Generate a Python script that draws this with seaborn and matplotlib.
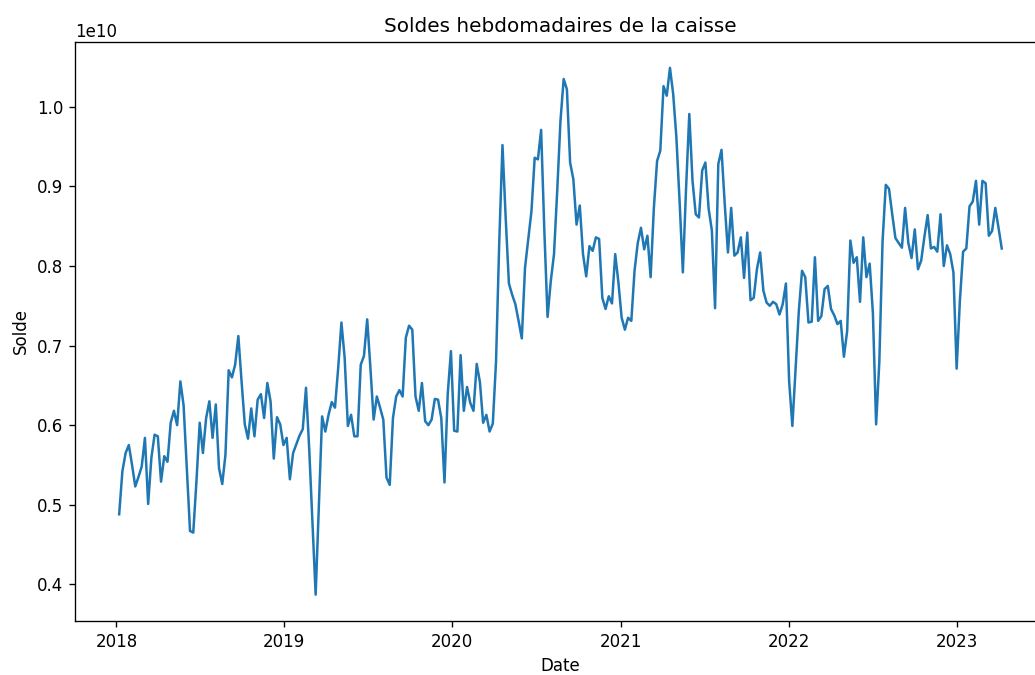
import pandas as pd
import matplotlib
matplotlib.use("Agg")
import matplotlib.pyplot as plt
import seaborn as sns

# Weekly balances (in units of 1e10)
start_date = "2018-01-07"
solde_2018 = [0.488, 0.542, 0.565, 0.575, 0.550, 0.523, 0.535, 0.548, 0.584, 0.501,
              0.559, 0.588, 0.586, 0.529, 0.561, 0.554, 0.603, 0.618, 0.600, 0.655,
              0.625, 0.545, 0.467, 0.465, 0.530, 0.603, 0.565, 0.609, 0.630, 0.584,
              0.626, 0.546, 0.526, 0.563, 0.669, 0.660, 0.676, 0.712, 0.655, 0.601,
              0.583, 0.621, 0.586, 0.632, 0.639, 0.609, 0.653, 0.630, 0.558, 0.610,
              0.601, 0.575]
solde_2019 = [0.584, 0.532, 0.565, 0.576, 0.587, 0.595, 0.647, 0.570, 0.480, 0.387,
              0.500, 0.611, 0.592, 0.613, 0.629, 0.622, 0.672, 0.729, 0.685, 0.599,
              0.613, 0.586, 0.586, 0.676, 0.687, 0.733, 0.672, 0.607, 0.636, 0.622,
              0.607, 0.534, 0.525, 0.609, 0.636, 0.644, 0.636, 0.710, 0.725, 0.720,
              0.636, 0.618, 0.653, 0.605, 0.600, 0.607, 0.633, 0.632, 0.609, 0.528,
              0.639, 0.693]
solde_2020 = [0.593, 0.592, 0.688, 0.618, 0.648, 0.628, 0.618, 0.677, 0.654, 0.603,
              0.613, 0.592, 0.602, 0.680, 0.830, 0.952, 0.860, 0.778, 0.764, 0.752,
              0.731, 0.709, 0.798, 0.834, 0.869, 0.936, 0.934, 0.971, 0.844, 0.736,
              0.781, 0.815, 0.895, 0.982, 1.035, 1.022, 0.930, 0.909, 0.852, 0.876,
              0.815, 0.787, 0.825, 0.819, 0.836, 0.834, 0.760, 0.746, 0.762, 0.753,
              0.815, 0.779]
solde_2021 = [0.735, 0.720, 0.735, 0.731, 0.794, 0.829, 0.848, 0.821, 0.838, 0.786,
              0.873, 0.932, 0.945, 1.026, 1.014, 1.049, 1.016, 0.961, 0.880, 0.792,
              0.898, 0.991, 0.907, 0.865, 0.861, 0.920, 0.930, 0.872, 0.845, 0.747,
              0.928, 0.946, 0.878, 0.817, 0.873, 0.813, 0.817, 0.836, 0.785, 0.842,
              0.757, 0.760, 0.796, 0.817, 0.769, 0.754, 0.750, 0.755, 0.752, 0.739,
              0.752, 0.778]
solde_2022 = [0.655, 0.599, 0.672, 0.743, 0.794, 0.786, 0.729, 0.730, 0.811, 0.731,
              0.737, 0.771, 0.775, 0.746, 0.738, 0.727, 0.731, 0.686, 0.718, 0.832,
              0.804, 0.811, 0.755, 0.836, 0.786, 0.803, 0.741, 0.601, 0.680, 0.831,
              0.902, 0.897, 0.865, 0.835, 0.829, 0.823, 0.873, 0.829, 0.810, 0.846,
              0.796, 0.807, 0.837, 0.864, 0.822, 0.824, 0.818, 0.865, 0.800, 0.826,
              0.815, 0.792]
solde_2023 = [0.671, 0.756, 0.818, 0.822, 0.875, 0.881, 0.907, 0.852, 0.907, 0.904,
              0.838, 0.844, 0.873, 0.848, 0.822]

solde = solde_2018 + solde_2019 + solde_2020 + solde_2021 + solde_2022 + solde_2023

df = pd.DataFrame({
    'Date': pd.date_range(start_date, periods=len(solde), freq='W'),
    'Solde': [v * 1e10 for v in solde],
})

fig = plt.figure(figsize=(8.625, 5.625), dpi=120)
ax = fig.add_axes([0.0725, 0.08, 0.938, 0.8585])

sns.lineplot(data=df, x='Date', y='Solde', ax=ax, color='#1f77b4')

ax.set_title("Soldes hebdomadaires de la caisse")
ax.set_xlabel("Date")
ax.set_ylabel("Solde")

fig.savefig("out.png", dpi=120)
